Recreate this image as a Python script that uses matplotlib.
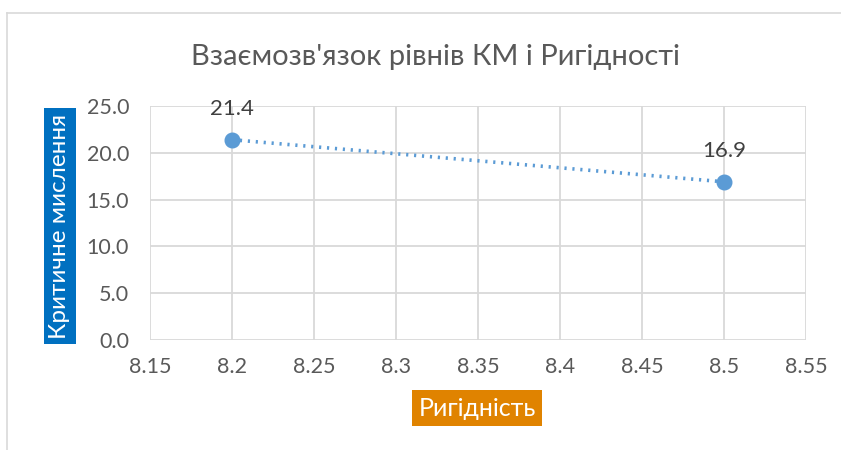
import matplotlib.pyplot as plt
from matplotlib.lines import Line2D
from matplotlib.ticker import MultipleLocator, FuncFormatter

plt.rcParams['font.family'] = ['Lato', 'DejaVu Sans']

# data
rigidity = [8.2, 8.5]
critical = [21.4, 16.9]
x_min, x_max = 8.15, 8.55
y_min, y_max = 0.0, 25.0

fig = plt.figure(figsize=(8.41, 4.5), dpi=100)
ax = fig.add_axes([150 / 841, 1 - 340 / 450, 656 / 841, 234 / 450])

ax.plot(rigidity, critical, linestyle=(0, (0.6, 1.6)), linewidth=2.6,
        color='#5B9BD5', marker='o', markersize=10.5, zorder=3)

for x, y in zip(rigidity, critical):
    ax.annotate(f"{y:.1f}", (x, y), xytext=(0, 22), textcoords='offset points',
                ha='center', va='center', fontsize=16, color='#404040')

ax.set_xlim(x_min, x_max)
ax.set_ylim(y_min, y_max)
ax.xaxis.set_major_locator(MultipleLocator(0.05))
ax.yaxis.set_major_locator(MultipleLocator(5))
ax.xaxis.set_major_formatter(FuncFormatter(lambda v, p: f"{v:.2f}".rstrip('0').rstrip('.')))
ax.yaxis.set_major_formatter(FuncFormatter(lambda v, p: f"{v:.1f}"))
ax.grid(True, color='#D9D9D9', linewidth=1.3)
ax.set_axisbelow(True)
for s in ax.spines.values():
    s.set_visible(False)
ax.tick_params(length=0, labelsize=15.5, labelcolor='#595959')
ax.tick_params(axis='y', pad=15)
ax.tick_params(axis='x', pad=12)

fig.text(435 / 841, 1 - 57 / 450, "Взаємозв'язок рівнів КМ і Ригідності",
         ha='center', va='center', fontsize=21, color='#595959')

fig.text(60 / 841, 1 - 226 / 450, "Критичне мислення", rotation=90,
         ha='center', va='center', fontsize=17.5, color='white',
         bbox=dict(boxstyle='square,pad=0.22', facecolor='#0070C0', edgecolor='none'))
fig.text(477 / 841, 1 - 408 / 450, "Ригідність",
         ha='center', va='center', fontsize=18, color='white',
         bbox=dict(boxstyle='square,pad=0.25', facecolor='#E08300', edgecolor='none'))

# chart frame
fig.add_artist(Line2D([7 / 841, 1.0], [1 - 13 / 450] * 2, color='#D9D9D9', linewidth=1.2))
fig.add_artist(Line2D([7 / 841] * 2, [0.0, 1 - 13 / 450], color='#D9D9D9', linewidth=1.2))

fig.savefig('out.png', dpi=100)
